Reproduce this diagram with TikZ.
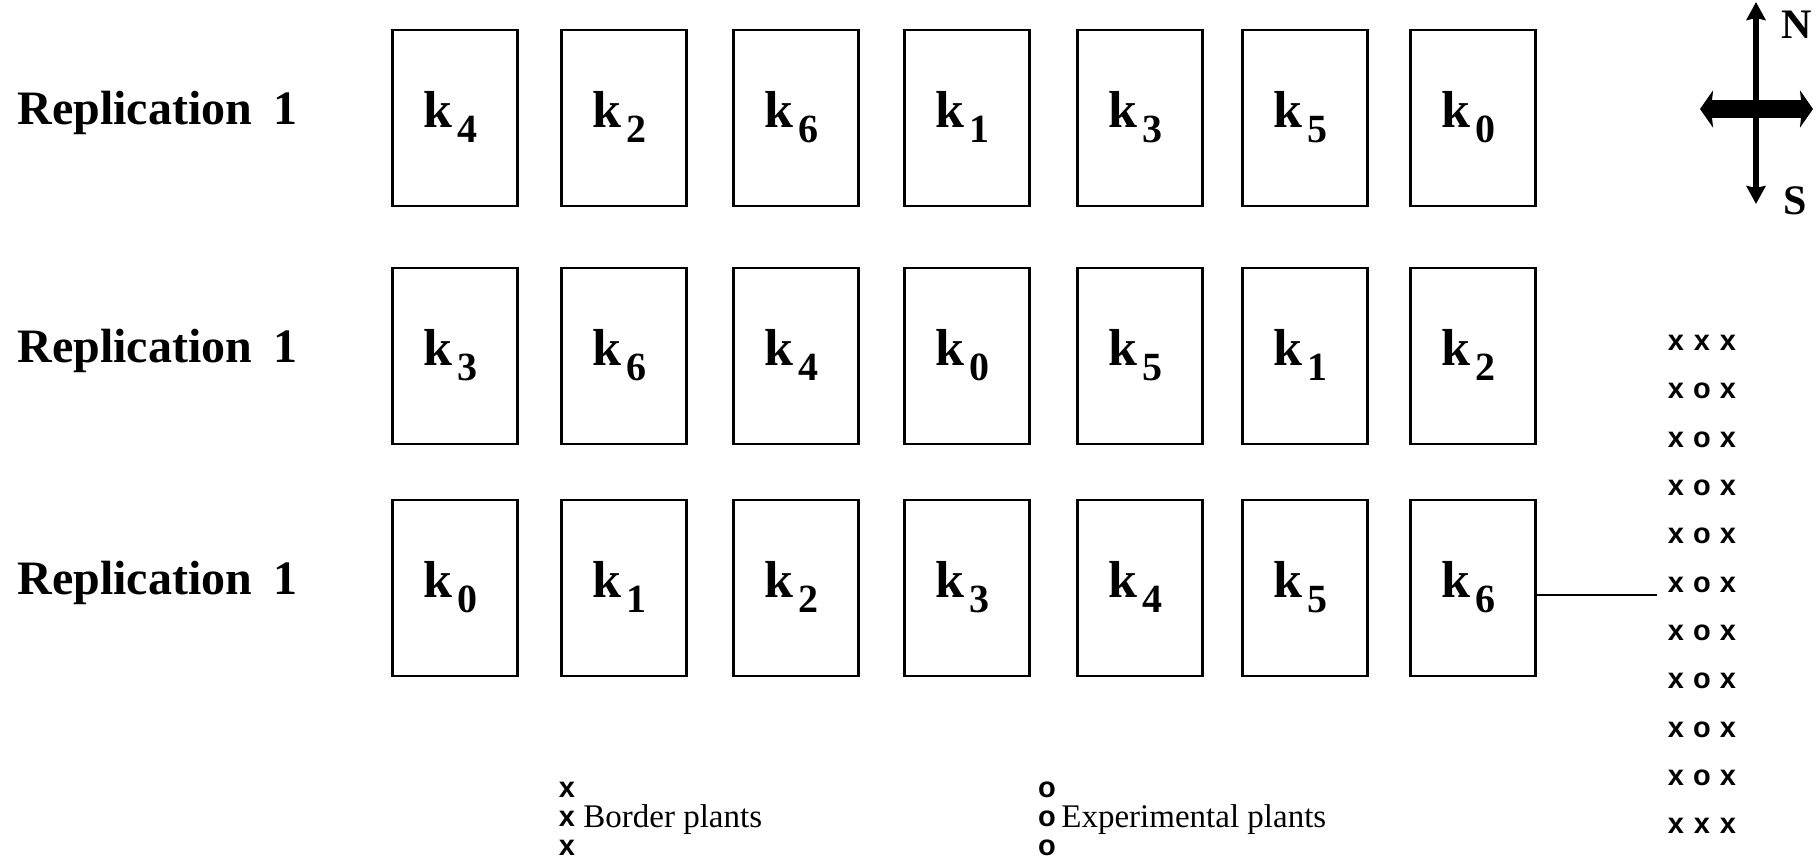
\documentclass[tikz,border=0pt]{standalone}
\usepackage{fontspec}
\setmainfont{Liberation Serif}
\newfontfamily\plantfont{Liberation Sans}[BoldFont={Liberation Sans Bold}]
\usetikzlibrary{arrows.meta}

% treatment label: bold k with a lowered index
\newcommand\ktreat[1]{k\hspace{3pt}\raisebox{-7.5pt}{\fontsize{20}{24}\selectfont #1}}

\begin{document}
\begin{tikzpicture}[x=0.5pt,y=-0.5pt,
  plotbox/.style={draw, line width=1.1pt, minimum width=62.5pt, minimum height=88pt, inner sep=0pt},
  klab/.style={anchor=base, inner sep=0pt, font=\fontsize{26}{30}\selectfont\bfseries},
  rowlabel/.style={anchor=base west, inner sep=0pt, font=\fontsize{24}{28}\selectfont\bfseries},
  plantsym/.style={inner sep=0pt, font=\plantfont\bfseries\fontsize{14.5}{16}\selectfont},
  legtext/.style={anchor=base west, inner sep=0pt, font=\fontsize{16.5}{19}\selectfont},
  compass/.style={inner sep=0pt, font=\fontsize{21}{24}\selectfont\bfseries}
  ]
\useasboundingbox (0,0) rectangle (1819,863);
\fill[white] (0,0) rectangle (1819,863);

% three rows of plots, one treatment each
\foreach \r/\yc/\labs in {1/118/{4,2,6,1,3,5,0}, 2/356/{3,6,4,0,5,1,2}, 3/588/{0,1,2,3,4,5,6}} {
  \node[rowlabel] (rep\r) at (17,\yc+6) {Replication\hspace{0.45em}1};
  \foreach \k [count=\c] in \labs {
    \pgfmathsetmacro\xc{{455,624,796,967,1140,1305,1473}[\c-1]}
    \node[plotbox] (r\r c\c) at (\xc,\yc) {};
    \node[klab] (k\r c\c) at ([xshift=-2.25pt,yshift=-4.5pt]r\r c\c.center) {\ktreat{\k}};
  }
}

% plant layout inside one plot: border rows of x, experimental o in the middle
\foreach \i in {1,...,11} {
  \pgfmathsetmacro\yy{343+48.3*(\i-1)}
  \node[plantsym] (g\i-1) at (1676,\yy) {x};
  \ifnum\i=1 \node[plantsym] (g\i-2) at (1702,\yy) {x};
  \else\ifnum\i=11 \node[plantsym] (g\i-2) at (1702,\yy) {x};
  \else \node[plantsym] (g\i-2) at (1702,\yy) {o};
  \fi\fi
  \node[plantsym] (g\i-3) at (1728,\yy) {x};
}
\coordinate (linkend) at (1657,595);
\draw[line width=0.9pt] ([yshift=-3.5pt]r3c7.east) -- (linkend);

% legend
\foreach \j/\yy in {1/790,2/819,3/848} {
  \node[plantsym] (lx\j) at (567,\yy) {x};
  \node[plantsym] (lo\j) at (1047,\yy) {o};
}
\node[legtext] (lxt) at (583,827) {Border plants};
\node[legtext] (lot) at (1061,827) {Experimental plants};

% compass
\draw[line width=3pt, {Stealth[width=9.5pt,length=9pt,inset=1pt]}-{Stealth[width=9.5pt,length=9pt,inset=1pt]}] (1756,204) -- (1756,2);
\draw[line width=9pt, {Stealth[width=18.5pt,length=6.5pt,inset=1pt]}-{Stealth[width=18.5pt,length=6.5pt,inset=1pt]}] (1700,109) -- (1813,109);
\node[compass] (north) at (1797,25) {N};
\node[compass] (south) at (1795,201) {S};
\end{tikzpicture}
\end{document}
